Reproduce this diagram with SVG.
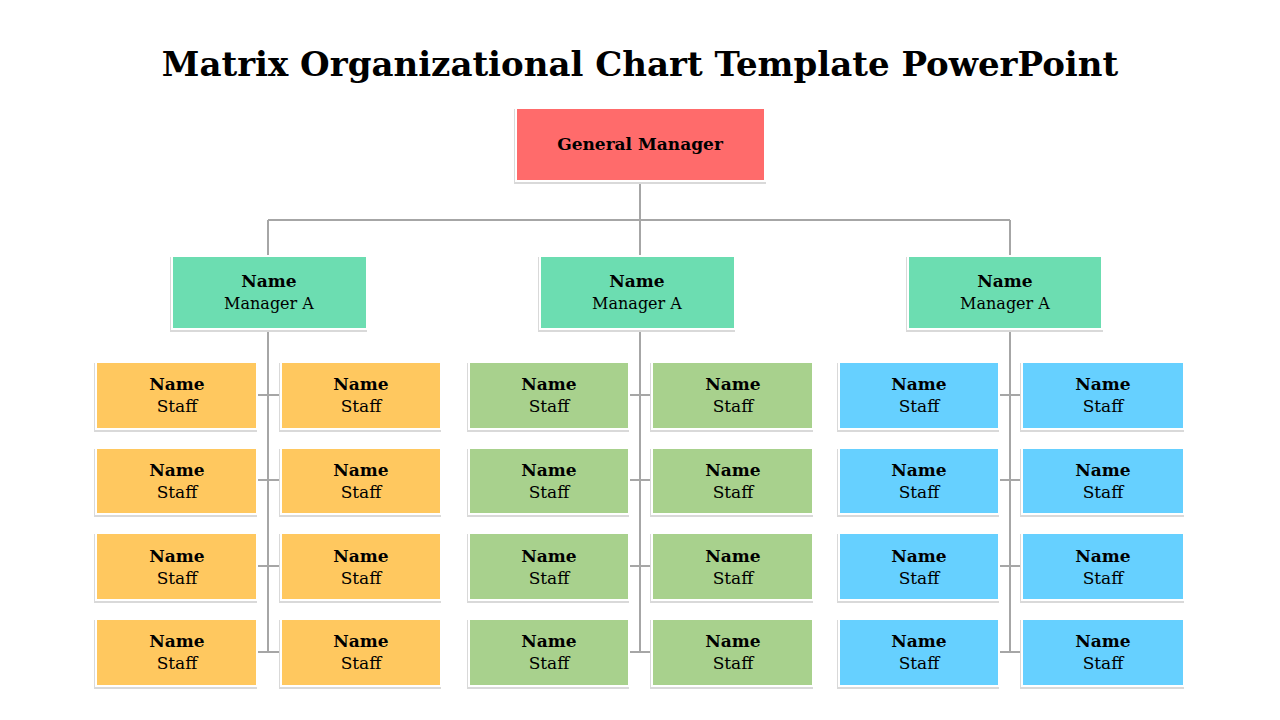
<svg xmlns="http://www.w3.org/2000/svg" width="1280" height="720" viewBox="0 0 1280 720">
<defs>
<style>
.t{font-family:"DejaVu Serif","Liberation Serif",serif;text-anchor:middle;fill:#000}
.b{font-weight:bold}
.sh{fill:#d9d9d9}
.bx{stroke:#fff;stroke-width:2}
.gm{fill:#ff6b6b}.mg{fill:#6cddb1}.o{fill:#ffc85f}.g{fill:#a8d18d}.c{fill:#66d0ff}
.ln{stroke:#a6a6a6;stroke-width:2;fill:none}
</style>
</defs>
<rect width="1280" height="720" fill="#fff"/>
<text class="t b" x="640" y="76" font-size="34">Matrix Organizational Chart Template PowerPoint</text>
<g id="connectors">
<path class="ln" d="M640 181V220M268 220H1010M268 220V257M640 220V257M1010 220V257"/>
<path class="ln" d="M268 329V652M640 329V652M1010 329V652"/>
<path class="ln" d="M256 395H282M256 480H282M256 566H282M256 652H282"/>
<path class="ln" d="M628 395H653M628 480H653M628 566H653M628 652H653"/>
<path class="ln" d="M998 395H1023M998 480H1023M998 566H1023M998 652H1023"/>
</g>
<g id="gm"><rect class="sh" x="514" y="109" width="252" height="75"/><rect class="bx gm" x="516" y="108" width="249" height="73"/><text class="t b" x="640" y="150" font-size="17">General Manager</text></g>
<g id="mgrA"><rect class="sh" x="170" y="257" width="197" height="75"/><rect class="bx mg" x="172" y="256" width="195" height="73"/><text class="t b" x="269" y="287" font-size="17">Name</text><text class="t" x="269" y="309" font-size="16">Manager A</text></g>
<g id="mgrB"><rect class="sh" x="538" y="257" width="197" height="75"/><rect class="bx mg" x="540" y="256" width="195" height="73"/><text class="t b" x="637" y="287" font-size="17">Name</text><text class="t" x="637" y="309" font-size="16">Manager A</text></g>
<g id="mgrC"><rect class="sh" x="906" y="257" width="197" height="75"/><rect class="bx mg" x="908" y="256" width="194" height="73"/><text class="t b" x="1005" y="287" font-size="17">Name</text><text class="t" x="1005" y="309" font-size="16">Manager A</text></g>
<g id="staff">
<g id="s"></g>
</g>
<g id="staffA">
<rect class="sh" x="94" y="363" width="163" height="69"/><rect class="bx o" x="96" y="362" width="161" height="67"/><text class="t b" x="177" y="390" font-size="17">Name</text><text class="t" x="177" y="412" font-size="17">Staff</text>
<rect class="sh" x="279" y="363" width="162" height="69"/><rect class="bx o" x="281" y="362" width="160" height="67"/><text class="t b" x="361" y="390" font-size="17">Name</text><text class="t" x="361" y="412" font-size="17">Staff</text>
<rect class="sh" x="94" y="449" width="163" height="68"/><rect class="bx o" x="96" y="448" width="161" height="66"/><text class="t b" x="177" y="476" font-size="17">Name</text><text class="t" x="177" y="498" font-size="17">Staff</text>
<rect class="sh" x="279" y="449" width="162" height="68"/><rect class="bx o" x="281" y="448" width="160" height="66"/><text class="t b" x="361" y="476" font-size="17">Name</text><text class="t" x="361" y="498" font-size="17">Staff</text>
<rect class="sh" x="94" y="534" width="163" height="69"/><rect class="bx o" x="96" y="533" width="161" height="67"/><text class="t b" x="177" y="562" font-size="17">Name</text><text class="t" x="177" y="584" font-size="17">Staff</text>
<rect class="sh" x="279" y="534" width="162" height="69"/><rect class="bx o" x="281" y="533" width="160" height="67"/><text class="t b" x="361" y="562" font-size="17">Name</text><text class="t" x="361" y="584" font-size="17">Staff</text>
<rect class="sh" x="94" y="620" width="163" height="69"/><rect class="bx o" x="96" y="619" width="161" height="67"/><text class="t b" x="177" y="647" font-size="17">Name</text><text class="t" x="177" y="669" font-size="17">Staff</text>
<rect class="sh" x="279" y="620" width="162" height="69"/><rect class="bx o" x="281" y="619" width="160" height="67"/><text class="t b" x="361" y="647" font-size="17">Name</text><text class="t" x="361" y="669" font-size="17">Staff</text>
</g>
<g id="staffB">
<rect class="sh" x="467" y="363" width="162" height="69"/><rect class="bx g" x="469" y="362" width="160" height="67"/><text class="t b" x="549" y="390" font-size="17">Name</text><text class="t" x="549" y="412" font-size="17">Staff</text>
<rect class="sh" x="650" y="363" width="163" height="69"/><rect class="bx g" x="652" y="362" width="161" height="67"/><text class="t b" x="733" y="390" font-size="17">Name</text><text class="t" x="733" y="412" font-size="17">Staff</text>
<rect class="sh" x="467" y="449" width="162" height="68"/><rect class="bx g" x="469" y="448" width="160" height="66"/><text class="t b" x="549" y="476" font-size="17">Name</text><text class="t" x="549" y="498" font-size="17">Staff</text>
<rect class="sh" x="650" y="449" width="163" height="68"/><rect class="bx g" x="652" y="448" width="161" height="66"/><text class="t b" x="733" y="476" font-size="17">Name</text><text class="t" x="733" y="498" font-size="17">Staff</text>
<rect class="sh" x="467" y="534" width="162" height="69"/><rect class="bx g" x="469" y="533" width="160" height="67"/><text class="t b" x="549" y="562" font-size="17">Name</text><text class="t" x="549" y="584" font-size="17">Staff</text>
<rect class="sh" x="650" y="534" width="163" height="69"/><rect class="bx g" x="652" y="533" width="161" height="67"/><text class="t b" x="733" y="562" font-size="17">Name</text><text class="t" x="733" y="584" font-size="17">Staff</text>
<rect class="sh" x="467" y="620" width="162" height="69"/><rect class="bx g" x="469" y="619" width="160" height="67"/><text class="t b" x="549" y="647" font-size="17">Name</text><text class="t" x="549" y="669" font-size="17">Staff</text>
<rect class="sh" x="650" y="620" width="163" height="69"/><rect class="bx g" x="652" y="619" width="161" height="67"/><text class="t b" x="733" y="647" font-size="17">Name</text><text class="t" x="733" y="669" font-size="17">Staff</text>
</g>
<g id="staffC">
<rect class="sh" x="837" y="363" width="162" height="69"/><rect class="bx c" x="839" y="362" width="160" height="67"/><text class="t b" x="919" y="390" font-size="17">Name</text><text class="t" x="919" y="412" font-size="17">Staff</text>
<rect class="sh" x="1020" y="363" width="164" height="69"/><rect class="bx c" x="1022" y="362" width="162" height="67"/><text class="t b" x="1103" y="390" font-size="17">Name</text><text class="t" x="1103" y="412" font-size="17">Staff</text>
<rect class="sh" x="837" y="449" width="162" height="68"/><rect class="bx c" x="839" y="448" width="160" height="66"/><text class="t b" x="919" y="476" font-size="17">Name</text><text class="t" x="919" y="498" font-size="17">Staff</text>
<rect class="sh" x="1020" y="449" width="164" height="68"/><rect class="bx c" x="1022" y="448" width="162" height="66"/><text class="t b" x="1103" y="476" font-size="17">Name</text><text class="t" x="1103" y="498" font-size="17">Staff</text>
<rect class="sh" x="837" y="534" width="162" height="69"/><rect class="bx c" x="839" y="533" width="160" height="67"/><text class="t b" x="919" y="562" font-size="17">Name</text><text class="t" x="919" y="584" font-size="17">Staff</text>
<rect class="sh" x="1020" y="534" width="164" height="69"/><rect class="bx c" x="1022" y="533" width="162" height="67"/><text class="t b" x="1103" y="562" font-size="17">Name</text><text class="t" x="1103" y="584" font-size="17">Staff</text>
<rect class="sh" x="837" y="620" width="162" height="69"/><rect class="bx c" x="839" y="619" width="160" height="67"/><text class="t b" x="919" y="647" font-size="17">Name</text><text class="t" x="919" y="669" font-size="17">Staff</text>
<rect class="sh" x="1020" y="620" width="164" height="69"/><rect class="bx c" x="1022" y="619" width="162" height="67"/><text class="t b" x="1103" y="647" font-size="17">Name</text><text class="t" x="1103" y="669" font-size="17">Staff</text>
</g>
</svg>
